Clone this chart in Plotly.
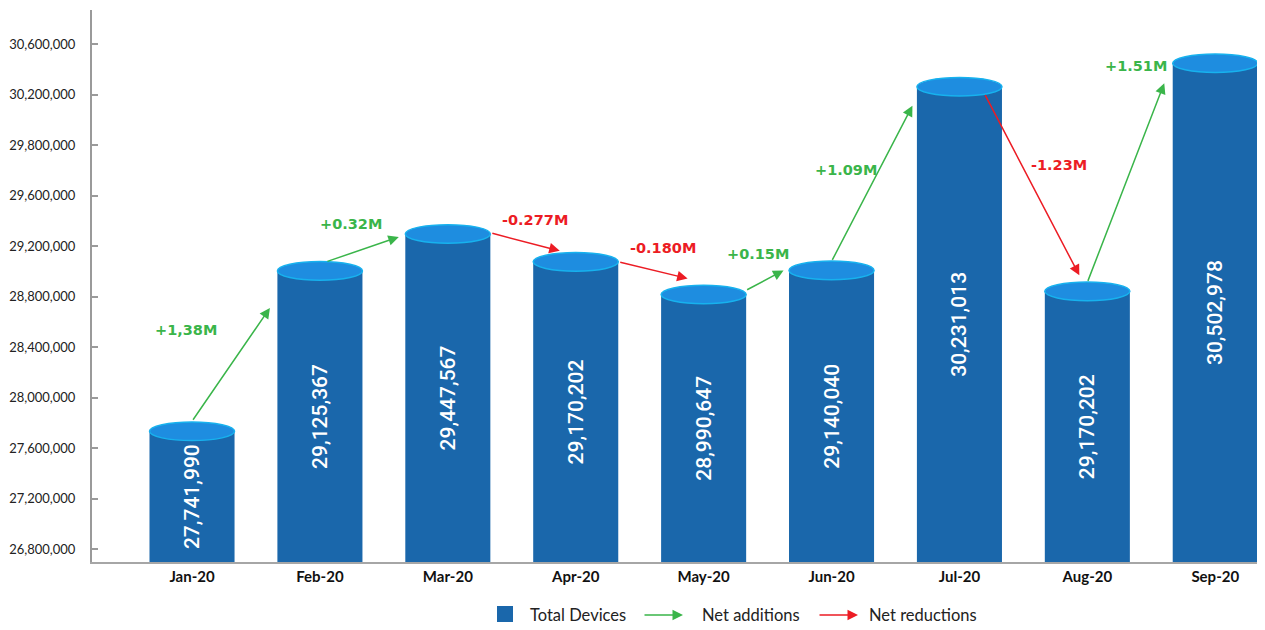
import plotly.graph_objects as go

# Data
months = ['Jan-20', 'Feb-20', 'Mar-20', 'Apr-20', 'May-20', 'Jun-20', 'Jul-20', 'Aug-20', 'Sep-20']
bar_tops = [27733000, 29004000, 29297000, 29076000, 28817000, 29008000, 30464000, 28842000, 30650000]
device_labels = ['27,741,990', '29,125,367', '29,447,567', '29,170,202', '28,990,647',
                 '29,140,040', '30,231,013', '29,170,202', '30,502,978']
change_labels = ['+1,38M', '+0.32M', '-0.277M', '-0.180M', '+0.15M', '+1.09M', '-1.23M', '+1.51M']
# tick labels exactly as printed on the original axis
y_tick_vals = list(range(26800000, 30800001, 400000))
y_tick_text = ['26,800,000', '27,200,000', '27,600,000', '28,000,000', '28,400,000', '28,800,000',
               '29,200,000', '29,600,000', '29,800,000', '30,200,000', '30,600,000']

# Layout geometry (page body adds an 8px margin, so the figure is 8px smaller)
OFF = 8
W, H = 1265 - OFF, 630 - OFF
ML, MR, MT, MB = 92 - OFF, 0, 10 - OFF, 630 - 562
X0, X1 = -0.782, 8.389
Y0, Y1 = 26697000, 31072000
ppx = (W - ML - MR) / (X1 - X0)
ppy = (H - MT - MB) / (Y1 - Y0)
bar_w = 0.665

BAR = '#1a67ab'
TOP = '#1e8de0'
RIM = '#17b2ee'
GREEN = '#3ab54a'
RED = '#ec1c24'

# arrow styling offsets in screen px (tail from bar centre/top, head from next bar centre/top)
tail_dx = [0, 6, 43, 43, 42, 0, 25, 0]
tail_dy = [-10, -9, -1, 0, -4, -9, 7, -9]
head_dx = [-50, -49, -16, -16, -48, -47, -8, -51]
head_dy = [37, 3, -11, -16, 0, 19, -16, 20]
label_dx = [-45, -11, 10, 10, -7, -26, 27, 10]
label_dy = [-35, -25, -22, -22, -26, -14, -20, -117]

fig = go.Figure()

fig.add_trace(go.Bar(
    x=list(range(len(months))),
    y=[v - Y0 for v in bar_tops],
    base=Y0,
    width=bar_w,
    marker=dict(color=BAR, line=dict(width=0)),
    text=device_labels,
    textposition='inside',
    insidetextanchor='middle',
    textangle=-90,
    textfont=dict(family='Roboto', size=21, color='white', weight=500),
    showlegend=False,
    hoverinfo='skip',
))

# cylinder tops
eh = 9.3 / ppy
for i, v in enumerate(bar_tops):
    fig.add_shape(type='circle', xref='x', yref='y',
                  x0=i - bar_w / 2, x1=i + bar_w / 2, y0=v - eh, y1=v + eh,
                  fillcolor=TOP, line=dict(color=RIM, width=1.5), layer='above')

# change arrows
for i, lab in enumerate(change_labels):
    col = GREEN if bar_tops[i + 1] > bar_tops[i] else RED
    tx = i + tail_dx[i] / ppx
    ty = bar_tops[i] - tail_dy[i] / ppy
    hx = i + 1 + head_dx[i] / ppx
    hy = bar_tops[i + 1] - head_dy[i] / ppy
    fig.add_annotation(x=hx, y=hy, ax=tx, ay=ty, xref='x', yref='y', axref='x', ayref='y',
                       text='', showarrow=True, arrowhead=2, arrowsize=1.4, arrowwidth=1.5,
                       arrowcolor=col)
    fig.add_annotation(x=(tx + hx) / 2, y=(ty + hy) / 2, xref='x', yref='y',
                       text='<b>' + lab + '</b>', showarrow=False,
                       xshift=label_dx[i], yshift=-label_dy[i],
                       font=dict(family='DejaVu Sans', size=14.5, color=col))


# manual legend, positions given in window pixels
def px(xp):
    return (xp - OFF - ML) / (W - ML - MR)


def py(yp):
    return (H - MB - (yp - OFF)) / (H - MT - MB)


fig.add_shape(type='rect', xref='paper', yref='paper', x0=px(497), x1=px(513), y0=py(622), y1=py(606),
              fillcolor=BAR, line=dict(width=0))
legend_items = [(528, 'Total Devices'), (700, 'Net additions'), (867, 'Net reductions')]
for xp, t in legend_items:
    fig.add_annotation(x=px(xp), y=py(615), xref='paper', yref='paper', text=t, showarrow=False,
                       xanchor='left', yanchor='middle',
                       font=dict(family='Lato', size=16.5, color='#222'))
for xp, col in [(683, GREEN), (858, RED)]:
    fig.add_annotation(x=px(xp), y=py(615), xref='paper', yref='paper', ax=-40, ay=0,
                       text='', showarrow=True, arrowhead=2, arrowsize=1.4, arrowwidth=1.5,
                       arrowcolor=col)

fig.update_layout(
    width=W, height=H,
    margin=dict(l=ML, r=MR, t=MT, b=MB),
    plot_bgcolor='white', paper_bgcolor='white',
    bargap=0.3,
)
fig.update_xaxes(
    range=[X0, X1], tickmode='array', tickvals=list(range(len(months))), ticktext=months,
    showline=True, linecolor='#a6a6a6', linewidth=2, showgrid=False, zeroline=False,
    ticks='', tickfont=dict(family='Lato', size=15, color='#111', weight='bold'),
)
fig.update_yaxes(
    range=[Y0, Y1], tickmode='array', tickvals=y_tick_vals, ticktext=y_tick_text,
    showline=True, linecolor='#9a9a9a', linewidth=2, showgrid=False, zeroline=False,
    ticks='inside', ticklen=6, tickcolor='#9a9a9a', tickwidth=1.5,
    ticklabelstandoff=12,
    tickfont=dict(family='Lato', size=13, color='#222'),
)

fig.write_html('out.html')
